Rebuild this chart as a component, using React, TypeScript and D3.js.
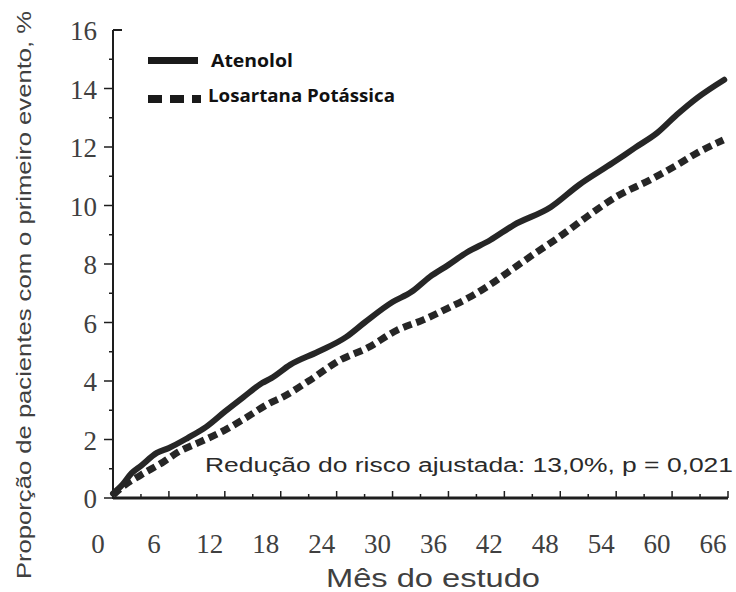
import React from "react";
import { scaleLinear, line, curveMonotoneX, range } from "d3";

type Pt = [number, number];

// cumulative % of patients with a first event, by study month
const atenololMonths = [0, 1, 2, 3, 4.7, 6, 8, 10, 12, 14, 16, 17, 19, 22, 25, 27, 30, 32, 34, 36, 38, 40.5, 43, 47, 50, 53.6, 56, 58.4, 60.5, 62.7, 65.6];
const atenololValues = [0.15, 0.45, 0.85, 1.1, 1.54, 1.71, 2.05, 2.43, 2.95, 3.45, 3.93, 4.1, 4.55, 5.0, 5.5, 6.0, 6.7, 7.04, 7.56, 7.97, 8.4, 8.82, 9.33, 9.95, 10.7, 11.45, 11.97, 12.48, 13.1, 13.68, 14.3];

const losartanMonths = [0, 1, 3, 5.4, 7, 9.3, 12, 14.4, 16.8, 18.2, 21, 24.4, 27.3, 30.5, 33.3, 36.2, 38.3, 40.5, 42.3, 45, 48, 51, 54, 57.6, 60.5, 62.7, 65.5];
const losartanValues = [0.1, 0.38, 0.79, 1.23, 1.57, 1.91, 2.32, 2.77, 3.24, 3.45, 4.0, 4.72, 5.13, 5.74, 6.09, 6.53, 6.87, 7.3, 7.7, 8.3, 8.95, 9.65, 10.3, 10.87, 11.38, 11.8, 12.24];

const xTickLabels = [0, 6, 12, 18, 24, 30, 36, 42, 48, 54, 60, 66];
const yTickLabels = [0, 2, 4, 6, 8, 10, 12, 14, 16];

const seriesNames = ["Atenolol", "Losartana Potássica"];
const annotation = "Redução do risco ajustada: 13,0%, p = 0,021";
const xTitle = "Mês do estudo";
const yTitle = "Proporção de pacientes com o primeiro evento, %";

export default function App() {
  const width = 736;
  const height = 592;

  const x = scaleLinear().domain([0, 66]).range([113, 728]);
  const y = scaleLinear().domain([0, 16]).range([498, 30]);

  const lineGen = line<Pt>()
    .x((d) => x(d[0]))
    .y((d) => y(d[1]))
    .curve(curveMonotoneX);

  const atenolol: Pt[] = atenololMonths.map((m, i) => [m, atenololValues[i]]);
  const losartan: Pt[] = losartanMonths.map((m, i) => [m, losartanValues[i]]);

  const minorX = range(3, 66, 6);
  const minorY = range(1, 16, 2);

  const axisColor = "#1e1e1e";
  const textColor = "#404040";

  return (
    <svg
      width={width}
      height={height}
      viewBox={`0 0 ${width} ${height}`}
      style={{ position: "absolute", left: 0, top: 0, background: "#fff" }}
    >
      {/* y axis */}
      <line x1={x(0)} x2={x(0)} y1={y(16)} y2={y(0) + 1} stroke={axisColor} strokeWidth={2} />
      <line x1={x(0)} x2={x(0) + 9} y1={y(16)} y2={y(16)} stroke={axisColor} strokeWidth={2} />
      {yTickLabels.slice(0, -1).map((t) => (
        <line key={`yt-${t}`} x1={x(0) - 9} x2={x(0)} y1={y(t)} y2={y(t)} stroke={axisColor} strokeWidth={1.5} />
      ))}
      {minorY.map((t) => (
        <line key={`ym-${t}`} x1={x(0) - 4} x2={x(0)} y1={y(t)} y2={y(t)} stroke={axisColor} strokeWidth={1.5} />
      ))}
      {yTickLabels.map((t) => (
        <text
          key={`yl-${t}`}
          x={97}
          y={y(t) + 10}
          textAnchor="end"
          fontFamily="Liberation Serif"
          fontSize={27}
          fill={textColor}
        >
          {t}
        </text>
      ))}

      {/* x axis */}
      <line x1={x(0)} x2={x(66)} y1={y(0)} y2={y(0)} stroke={axisColor} strokeWidth={3} />
      {xTickLabels.map((t) => (
        <line key={`xt-${t}`} x1={x(t)} x2={x(t)} y1={y(0)} y2={y(0) - 7} stroke={axisColor} strokeWidth={1.5} />
      ))}
      {minorX.map((t) => (
        <line key={`xm-${t}`} x1={x(t)} x2={x(t)} y1={y(0)} y2={y(0) - 4} stroke={axisColor} strokeWidth={1.5} />
      ))}
      {xTickLabels.map((t) => (
        <text
          key={`xl-${t}`}
          x={x(t) - 15}
          y={553}
          textAnchor="middle"
          fontFamily="Liberation Serif"
          fontSize={27}
          fill={textColor}
        >
          {t}
        </text>
      ))}

      {/* titles */}
      <text
        x={433}
        y={587}
        textAnchor="middle"
        fontFamily="Liberation Sans"
        fontSize={26}
        fill={textColor}
        textLength={214}
        lengthAdjust="spacingAndGlyphs"
      >
        {xTitle}
      </text>
      <text
        transform="translate(31,295) rotate(-90)"
        textAnchor="middle"
        fontFamily="Liberation Sans"
        fontSize={21}
        fill={textColor}
        textLength={568}
        lengthAdjust="spacingAndGlyphs"
      >
        {yTitle}
      </text>

      {/* series */}
      <path d={lineGen(losartan) ?? ""} fill="none" stroke="#262626" strokeWidth={7} strokeDasharray="9 5" />
      <path d={lineGen(atenolol) ?? ""} fill="none" stroke="#262626" strokeWidth={6} strokeLinecap="round" />

      {/* annotation */}
      <text
        x={205}
        y={472}
        fontFamily="Liberation Sans"
        fontSize={20}
        fill="#2a2a2a"
        textLength={528}
        lengthAdjust="spacingAndGlyphs"
      >
        {annotation}
      </text>

      {/* legend */}
      <line x1={148} x2={198} y1={60.5} y2={60.5} stroke="#1a1a1a" strokeWidth={7} />
      <text
        x={211}
        y={67}
        fontFamily="Open Sans"
        fontWeight="bold"
        fontSize={17}
        fill="#111"
        textLength={82}
        lengthAdjust="spacingAndGlyphs"
      >
        {seriesNames[0]}
      </text>
      <line x1={148} x2={201} y1={99} y2={99} stroke="#1a1a1a" strokeWidth={8} strokeDasharray="14 8" />
      <text
        x={208}
        y={102}
        fontFamily="Open Sans"
        fontWeight="bold"
        fontSize={17}
        fill="#111"
        textLength={187}
        lengthAdjust="spacingAndGlyphs"
      >
        {seriesNames[1]}
      </text>
    </svg>
  );
}
